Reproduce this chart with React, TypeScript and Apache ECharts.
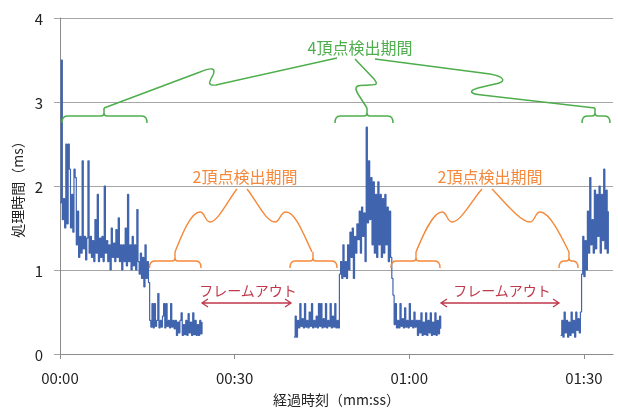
import React, { useEffect, useRef } from 'react';
import * as echarts from 'echarts';

// sampling step of the measurement log (seconds)
const STEP = 0.2;

// x-axis tick positions (seconds)
const xTicks = [0, 30, 60, 90];

// segment start times (seconds); gaps mark the frame-out periods
const seg1Start = 0;
const seg2Start = 15.4;
const gap1Time = 24.45;
const seg4Start = 40.2;
const seg5Start = 48.0;
const seg6Start = 57.2;
const gap2Time = 65.45;
const seg8Start = 86.0;
const seg9Start = 89.6;

// processing time (ms)
const seg1 = [
  1.8, 3.5, 1.6, 1.85, 1.5, 2.5, 1.55, 2.5, 2.2, 1.5,
  1.9, 1.45, 2.2, 2.1, 1.3, 1.7, 1.15, 1.4, 1.2, 2.3,
  1.25, 1.4, 1.12, 1.38, 2.3, 1.2, 1.4, 1.15, 1.35, 1.1,
  1.6, 1.2, 1.9, 1.1, 1.38, 1.15, 1.4, 1.1, 2.0, 1.2,
  1.35, 1.1, 1.3, 1.0, 1.5, 1.15, 1.32, 1.1, 1.48, 1.15,
  1.62, 1.1, 1.3, 1.0, 1.3, 1.1, 1.5, 1.05, 1.9, 1.1,
  1.3, 1.0, 1.4, 1.05, 1.3, 1.0, 1.72, 1.1, 0.95, 1.2,
  0.9, 1.15, 0.8, 1.3, 0.9, 1.1, 0.85,
];
const seg2 = [
  0.4, 0.32, 0.6, 0.31, 0.6, 0.33, 0.4, 0.72, 0.31, 0.4,
  0.32, 0.45, 0.6, 0.31, 0.6, 0.33, 0.4, 0.31, 0.6, 0.32,
  0.4, 0.3, 0.4, 0.22, 0.38, 0.25, 0.4, 0.49, 0.22, 0.35,
  0.23, 0.4, 0.22, 0.48, 0.25, 0.38, 0.22, 0.49, 0.23, 0.4,
  0.22, 0.35, 0.22, 0.4, 0.24, 0.38,
];
const seg4 = [
  0.2, 0.45, 0.2, 0.4, 0.31, 0.6, 0.33, 0.42, 0.31, 0.6,
  0.32, 0.4, 0.31, 0.5, 0.33, 0.6, 0.31, 0.4, 0.32, 0.45,
  0.31, 0.6, 0.33, 0.6, 0.31, 0.42, 0.32, 0.6, 0.31, 0.4,
  0.33, 0.6, 0.31, 0.45, 0.32, 0.6, 0.31, 0.4, 0.31,
];
const seg5 = [
  0.95, 1.1, 0.9, 1.3, 0.92, 1.1, 0.9, 1.3, 1.0, 1.45,
  1.15, 1.5, 0.9, 1.4, 1.2, 1.55, 1.36, 1.7, 1.2, 1.75,
  1.4, 1.68, 1.1, 2.7, 1.56, 2.3, 1.6, 2.1, 1.3, 2.05,
  1.2, 1.9, 1.15, 2.05, 1.3, 1.9, 1.15, 1.85, 1.2, 1.9,
  1.3, 1.75, 1.1, 1.7, 1.15, 0.9,
];
const seg6 = [
  0.7, 0.35, 0.6, 0.31, 0.4, 0.31, 0.6, 0.33, 0.42, 0.31,
  0.55, 0.32, 0.4, 0.31, 0.6, 0.33, 0.4, 0.31, 0.5, 0.32,
  0.4, 0.22, 0.4, 0.25, 0.49, 0.22, 0.38, 0.23, 0.49, 0.22,
  0.4, 0.25, 0.49, 0.22, 0.38, 0.23, 0.49, 0.22, 0.4, 0.24,
  0.45, 0.3,
];
const seg8 = [
  0.22, 0.4, 0.2, 0.5, 0.25, 0.4, 0.2, 0.38, 0.22, 0.5,
  0.25, 0.4, 0.2, 0.5, 0.28, 0.42, 0.25, 0.5,
];
const seg9 = [
  0.95, 1.4, 0.92, 1.35, 1.0, 1.7, 1.2, 2.1, 1.3, 1.6,
  1.2, 1.95, 1.25, 1.9, 1.4, 2.0, 1.2, 1.9, 1.35, 2.2,
  1.25, 1.95, 1.2, 1.7,
];

const FONT = "'Noto Sans CJK JP', 'Noto Sans', sans-serif";
const BLUE = '#4164AE';
const GREEN = '#4DAE4B';
const ORANGE = '#F5883A';
const RED = '#C0394B';

function buildData(): (number | string)[][] {
  const out: (number | string)[][] = [];
  const add = (start: number, vals: number[]) => {
    vals.forEach((v, i) => out.push([+(start + i * STEP).toFixed(2), v]));
  };
  add(seg1Start, seg1);
  add(seg2Start, seg2);
  out.push([gap1Time, '-']);
  add(seg4Start, seg4);
  add(seg5Start, seg5);
  add(seg6Start, seg6);
  out.push([gap2Time, '-']);
  add(seg8Start, seg8);
  add(seg9Start, seg9);
  return out;
}

function braceD(x1: number, x2: number, xm: number, yTop: number, depth: number, tip: number) {
  return (
    `M ${x1} ${yTop + depth} Q ${x1} ${yTop} ${x1 + 5} ${yTop} L ${xm - 3} ${yTop} ` +
    `Q ${xm} ${yTop} ${xm} ${yTop - 3} L ${xm} ${yTop - tip} ` +
    `M ${xm} ${yTop - 3} Q ${xm} ${yTop} ${xm + 3} ${yTop} L ${x2 - 5} ${yTop} ` +
    `Q ${x2} ${yTop} ${x2} ${yTop + depth}`
  );
}

const annPaths: { d: string; color: string; width: number }[] = [
  // green braces
  { d: braceD(62, 147, 104, 116, 7, 8), color: GREEN, width: 1.5 },
  { d: braceD(335, 393, 367, 116, 7, 8), color: GREEN, width: 1.5 },
  { d: braceD(582, 610, 595, 116, 7, 8), color: GREEN, width: 1.5 },
  // green leaders
  { d: 'M 104 108 L 200 72 C 212 67 216 68 213 75 C 210 81 206 86 216 85 L 337 58', color: GREEN, width: 1.5 },
  { d: 'M 355 59 L 374 79 C 378 84 377 85 370 85 L 360 85.5 C 355 86 355 89 358 94 L 367 108', color: GREEN, width: 1.5 },
  { d: 'M 375 59 L 490 74 C 506 77 506 82 495 84 L 478 88 C 468 91 470 94 482 95 L 595 108', color: GREEN, width: 1.5 },
  // orange braces
  { d: braceD(149.5, 201, 175, 261, 7, 9), color: ORANGE, width: 1.4 },
  { d: braceD(290, 337, 313, 261, 7, 9), color: ORANGE, width: 1.4 },
  { d: braceD(391, 440, 416, 261, 7, 9), color: ORANGE, width: 1.4 },
  { d: braceD(559, 578, 569, 261, 7, 9), color: ORANGE, width: 1.4 },
  // orange leaders
  { d: 'M 175 252 C 180 240 190 212 200 212 C 205 212 205 222 210 222 C 218 222 228 200 237 189', color: ORANGE, width: 1.4 },
  { d: 'M 247 189 C 256 200 266 222 275 222 C 280 222 280 212 286 212 C 296 212 305 238 312 252', color: ORANGE, width: 1.4 },
  { d: 'M 416 252 C 421 240 432 212 442 212 C 447 212 447 222 452 222 C 461 222 472 200 482 189', color: ORANGE, width: 1.4 },
  { d: 'M 492 189 C 503 200 520 222 530 222 C 535 222 535 212 540 212 C 550 212 562 238 569 252', color: ORANGE, width: 1.4 },
  // red arrows
  { d: 'M 202 303 L 291 303 M 208 299 L 202 303 L 208 307 M 285 299 L 291 303 L 285 307', color: RED, width: 1.3 },
  { d: 'M 441 303 L 559 303 M 447 299 L 441 303 L 447 307 M 553 299 L 559 303 L 553 307', color: RED, width: 1.3 },
];

annPaths.forEach((p, i) => {
  echarts.graphic.registerShape('ann' + i, echarts.graphic.extendPath(p.d, {}) as any);
});

const annTexts = [
  { text: '4頂点検出期間', x: 360, y: 47, color: GREEN, size: 16 },
  { text: '2頂点検出期間', x: 245, y: 176, color: ORANGE, size: 16 },
  { text: '2頂点検出期間', x: 490, y: 176, color: ORANGE, size: 16 },
  { text: 'フレームアウト', x: 248, y: 290, color: RED, size: 14 },
  { text: 'フレームアウト', x: 502, y: 290, color: RED, size: 14 },
];

function fmt(v: number) {
  const m = Math.floor(v / 60);
  const s = Math.round(v % 60);
  return `${String(m).padStart(2, '0')}:${String(s).padStart(2, '0')}`;
}

export default function App() {
  const ref = useRef<HTMLDivElement>(null);
  useEffect(() => {
    if (!ref.current) return;
    const chart = echarts.init(ref.current, undefined, { renderer: 'svg' });
    const graphic: any[] = [];
    annPaths.forEach((p, i) => {
      graphic.push({
        type: 'ann' + i,
        x: 0,
        y: 0,
        z: 100,
        silent: true,
        style: { fill: 'none', stroke: p.color, lineWidth: p.width },
      });
    });
    annTexts.forEach((t) => {
      graphic.push({
        type: 'text',
        x: t.x,
        y: t.y,
        z: 100,
        silent: true,
        style: {
          text: t.text,
          fill: t.color,
          fontSize: t.size,
          fontFamily: FONT,
          align: 'center',
          verticalAlign: 'middle',
        },
      });
    });
    chart.setOption({
      animation: false,
      grid: { left: 60, right: 5, top: 18, bottom: 56, containLabel: false, outerBoundsMode: 'none' },
      xAxis: {
        type: 'value',
        min: 0,
        max: 95,
        interval: 30,
        name: '経過時刻（mm:ss）',
        nameLocation: 'middle',
        nameGap: 38,
        nameTextStyle: { fontSize: 14, color: '#222', fontFamily: FONT },
        axisLine: { show: true, lineStyle: { color: '#8c8c8c', width: 1 } },
        axisTick: { show: true, length: 5, customValues: xTicks, lineStyle: { color: '#8c8c8c' } },
        axisLabel: { customValues: xTicks, formatter: fmt, fontSize: 15, color: '#222', margin: 16, fontFamily: FONT },
        splitLine: { show: false },
      },
      yAxis: {
        type: 'value',
        min: 0,
        max: 4,
        interval: 1,
        name: '処理時間（ms）',
        nameLocation: 'middle',
        nameGap: 32,
        nameRotate: 90,
        nameTextStyle: { fontSize: 14, color: '#222', fontFamily: FONT },
        axisLine: { show: true, lineStyle: { color: '#8c8c8c', width: 1 } },
        axisTick: { show: true, length: 6, lineStyle: { color: '#a6a6a6' } },
        axisLabel: { fontSize: 15, color: '#222', margin: 17, fontFamily: FONT },
        splitLine: { show: true, lineStyle: { color: '#a6a6a6', width: 1 } },
      },
      series: [
        {
          type: 'line',
          data: buildData(),
          step: 'end',
          showSymbol: false,
          symbol: 'none',
          connectNulls: false,
          lineStyle: { width: 1.2, color: BLUE },
          itemStyle: { color: BLUE },
        },
      ],
      graphic,
    });
    return () => chart.dispose();
  }, []);
  return <div ref={ref} style={{ position: 'fixed', left: 0, top: 0, width: 618, height: 410 }} />;
}
